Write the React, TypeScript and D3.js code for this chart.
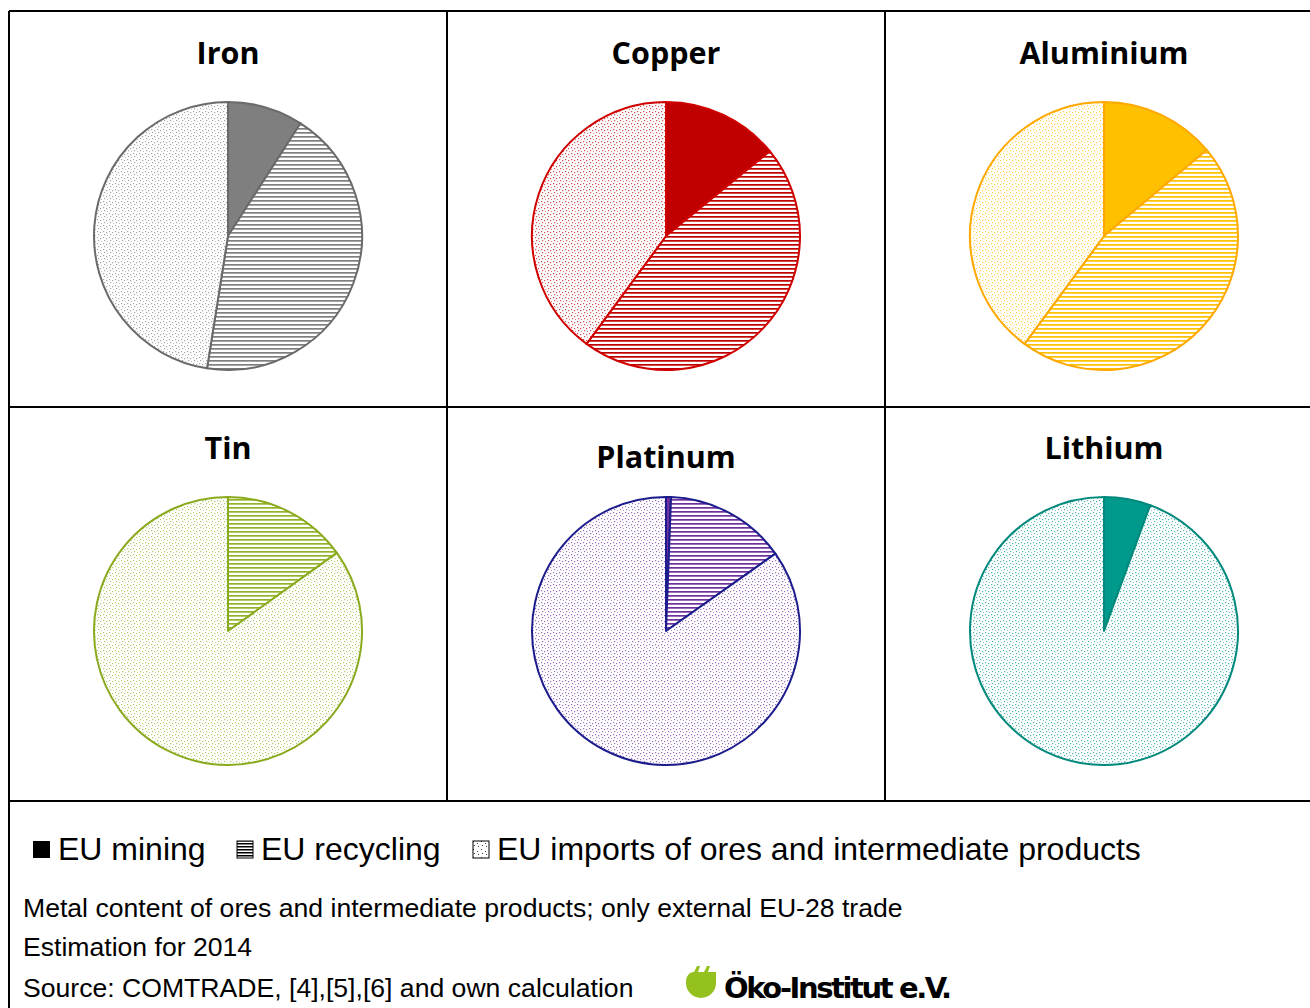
import * as d3 from "d3";

const metals = ["Iron", "Copper", "Aluminium", "Tin", "Platinum", "Lithium"];
const mining = [9.1, 14.1, 13.9, 0, 0.6, 5.6];
const recycling = [43.4, 46.0, 46.2, 15.1, 14.6, 0];
const imports = [47.5, 39.9, 39.9, 84.9, 84.8, 94.4];
const fills = ["#7f7f7f", "#c00000", "#ffc000", "#92b426", "#7030a0", "#009a8c"];
const strokes = ["#6a6a6a", "#d00000", "#ffa800", "#8aaa1e", "#1c1c8c", "#00897c"];
const legendLabels = ["EU mining", "EU recycling", "EU imports of ores and intermediate products"];
const notes = [
  "Metal content of ores and intermediate products; only external EU-28 trade",
  "Estimation for 2014",
  "Source: COMTRADE, [4],[5],[6] and own calculation",
];

const W = 1310;
const H = 1008;
const colX = [9, 447, 885, 1323];
const rowY = [11, 407, 801];
const titleDy = [53, 53, 53, 52, 61, 52];
const radius = 134;

const pie = d3.pie<number>().sort(null).value((d) => d);
const arc = d3.arc<d3.PieArcDatum<number>>().innerRadius(0).outerRadius(radius);

function Patterns() {
  return (
    <defs>
      {fills.map((c, i) => (
        <g key={i}>
          <pattern id={`hatch${i}`} width={6} height={4} patternUnits="userSpaceOnUse">
            <rect width={6} height={4} fill="#fff" />
            <rect y={0} width={6} height={1.7} fill={c} />
          </pattern>
          <pattern id={`dots${i}`} width={6} height={6} patternUnits="userSpaceOnUse">
            <rect width={6} height={6} fill="#fff" />
            <rect x={1} y={1} width={1.2} height={1.2} fill={c} opacity={0.7} />
            <rect x={4} y={2} width={1.2} height={1.2} fill={c} opacity={0.7} />
            <rect x={2} y={4} width={1.2} height={1.2} fill={c} opacity={0.7} />
            <rect x={5} y={5} width={1} height={1} fill={c} opacity={0.5} />
          </pattern>
        </g>
      ))}
      <pattern id="hatchK" width={4} height={3} patternUnits="userSpaceOnUse">
        <rect width={4} height={3} fill="#fff" />
        <rect width={4} height={1.5} fill="#000" />
      </pattern>
      <pattern id="dotsK" width={8} height={8} patternUnits="userSpaceOnUse">
        <rect width={8} height={8} fill="#fff" />
        <rect x={1} y={1} width={1} height={1} fill="#444" />
        <rect x={5} y={3} width={1} height={1} fill="#444" />
        <rect x={2} y={5} width={1} height={1} fill="#444" />
        <rect x={6} y={6} width={1} height={1} fill="#444" />
      </pattern>
    </defs>
  );
}

function Panel({ i }: { i: number }) {
  const col = i % 3;
  const row = Math.floor(i / 3);
  const cx = (colX[col] + colX[col + 1]) / 2;
  const cy = (rowY[row] + rowY[row + 1]) / 2 + 27;
  const arcs = pie([mining[i], recycling[i], imports[i]]);
  const paint = [fills[i], `url(#hatch${i})`, `url(#dots${i})`];
  return (
    <g>
      <text
        x={cx}
        y={rowY[row] + titleDy[i]}
        textAnchor="middle"
        fontFamily="'Open Sans', 'DejaVu Sans', sans-serif"
        fontWeight={700}
        fontSize={30.5}
        fill="#000"
      >
        {metals[i]}
      </text>
      <g transform={`translate(${cx},${cy})`}>
        {arcs.map((a, k) =>
          a.value > 0 ? (
            <path key={k} d={arc(a) || ""} fill={paint[k]} stroke={strokes[i]} strokeWidth={2} strokeLinejoin="round" />
          ) : null
        )}
      </g>
    </g>
  );
}

function Logo({ x, y }: { x: number; y: number }) {
  return (
    <g transform={`translate(${x},${y})`}>
      <path
        d="M0,17 C0,10 3,6 8,6 L11,0 L14,0 L12,6 L18,6 L21,0 L24,0 L22,6 L30,6 L30,17 A15,15 0 0 1 0,17 Z"
        fill="#95c11f"
      />
      <text
        x={38}
        y={32}
        fontFamily="'DejaVu Sans', sans-serif"
        fontWeight={700}
        fontSize={29}
        letterSpacing={-2.4}
        fill="#000"
      >
        Öko-Institut e.V.
      </text>
    </g>
  );
}

export default function App() {
  const legendX = [33, 237, 473];
  const legendTextX = [58, 261, 497];
  const legendPaint = ["#000", "url(#hatchK)", "url(#dotsK)"];
  return (
    <svg width={W} height={H} style={{ position: "absolute", left: 0, top: 0, background: "#fff" }}>
      <Patterns />
      <rect width={W} height={H} fill="#fff" />
      {metals.map((_, i) => (
        <Panel key={i} i={i} />
      ))}
      {/* grid lines */}
      <g stroke="#000" strokeWidth={2}>
        {rowY.map((y, k) => (
          <line key={`h${k}`} x1={colX[0]} x2={W} y1={y} y2={y} />
        ))}
        <line x1={colX[0]} x2={colX[0]} y1={rowY[0]} y2={H} />
        <line x1={colX[1]} x2={colX[1]} y1={rowY[0]} y2={rowY[2]} />
        <line x1={colX[2]} x2={colX[2]} y1={rowY[0]} y2={rowY[2]} />
      </g>
      {/* legend */}
      {legendLabels.map((l, k) => (
        <g key={l}>
          <rect
            x={legendX[k]}
            y={841}
            width={k === 0 ? 17 : 16}
            height={17}
            fill={legendPaint[k]}
            stroke={k === 0 ? "none" : "#000"}
            strokeWidth={1}
          />
          <text
            x={legendTextX[k]}
            y={860}
            fontFamily="'Liberation Sans', Arial, sans-serif"
            fontSize={32}
            fill="#000"
          >
            {l}
          </text>
        </g>
      ))}
      {notes.map((n, k) => (
        <text
          key={k}
          x={23}
          y={[917, 956, 997][k]}
          fontFamily="'Liberation Sans', Arial, sans-serif"
          fontSize={26.6}
          fill="#000"
        >
          {n}
        </text>
      ))}
      <Logo x={686} y={966} />
    </svg>
  );
}
